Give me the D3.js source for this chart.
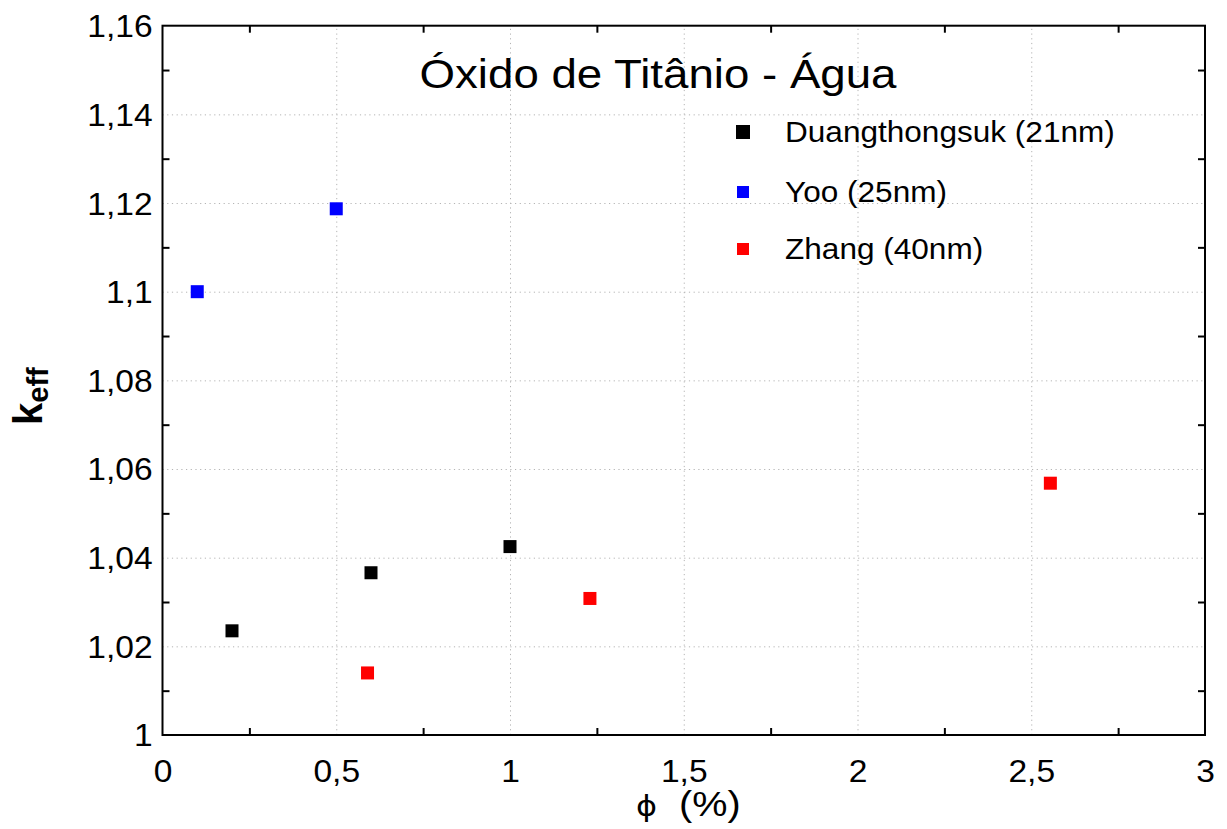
<!DOCTYPE html>
<html>
<head>
<meta charset="utf-8">
<script src="https://cdn.jsdelivr.net/npm/d3@7"></script>
<style>
  html, body { margin: 0; padding: 0; background: #fff; }
  svg { display: block; }
  text { font-family: "Liberation Sans", Arial, sans-serif; fill: #000; }
</style>
</head>
<body>
<svg id="chart" width="1227" height="829"></svg>
<script>
// Thermal conductivity ratio of TiO2–water nanofluids vs. volume fraction
const seriesNames = ["Duangthongsuk (21nm)", "Yoo (25nm)", "Zhang (40nm)"];
const seriesColors = ["#000000", "#0000ff", "#ff0000"];

const duangX = [0.2, 0.6, 1.0];
const duangY = [1.0235, 1.0366, 1.0425];

const yooX = [0.1, 0.5];
const yooY = [1.1, 1.1187];

const zhangX = [0.59, 1.23, 2.555];
const zhangY = [1.014, 1.0308, 1.0568];

const xTicks = [0, 0.5, 1, 1.5, 2, 2.5, 3];
const xMinorTicks = [0.25, 0.75, 1.25, 1.75, 2.25, 2.75];
const yTicks = [1, 1.02, 1.04, 1.06, 1.08, 1.1, 1.12, 1.14, 1.16];
const yMinorTicks = [1.01, 1.03, 1.05, 1.07, 1.09, 1.11, 1.13, 1.15];

const titleText = "Óxido de Titânio - Água";

const series = [
  { name: seriesNames[0], color: seriesColors[0], xs: duangX, ys: duangY },
  { name: seriesNames[1], color: seriesColors[1], xs: yooX, ys: yooY },
  { name: seriesNames[2], color: seriesColors[2], xs: zhangX, ys: zhangY }
];

const svg = d3.select("#chart");
const plot = { left: 162.5, top: 25.7, right: 1205, bottom: 735 };
const W = plot.right - plot.left, H = plot.bottom - plot.top;
const stretch = 1.1; // text is drawn slightly wide

const x = d3.scaleLinear().domain([0, 3]).range([plot.left, plot.right]);
const y = d3.scaleLinear().domain([1, 1.16]).range([plot.bottom, plot.top]);

const fmt = v => d3.format("~g")(+v.toFixed(2)).replace(".", ",");

// dotted grid at major values
const grid = svg.append("g").attr("class", "grid");
grid.append("g")
  .attr("transform", `translate(0,${plot.bottom})`)
  .call(d3.axisBottom(x).tickValues(xTicks.slice(1, -1)).tickSize(-H).tickFormat(""))
  .call(g => g.select(".domain").remove());
grid.append("g")
  .attr("transform", `translate(${plot.left},0)`)
  .call(d3.axisLeft(y).tickValues(yTicks.slice(1, -1)).tickSize(-W).tickFormat(""))
  .call(g => g.select(".domain").remove());
grid.selectAll("line")
  .attr("stroke", "#b4b4b4")
  .attr("stroke-width", 1)
  .attr("stroke-dasharray", "1.2,3.5");

// inward minor ticks on all four sides
const tickLen = 7;
const minor = svg.append("g").attr("class", "minor");
minor.append("g").attr("transform", `translate(0,${plot.bottom})`)
  .call(d3.axisBottom(x).tickValues(xMinorTicks).tickSize(-tickLen).tickFormat(""));
minor.append("g").attr("transform", `translate(0,${plot.top})`)
  .call(d3.axisTop(x).tickValues(xMinorTicks).tickSize(-tickLen).tickFormat(""));
minor.append("g").attr("transform", `translate(${plot.left},0)`)
  .call(d3.axisLeft(y).tickValues(yMinorTicks).tickSize(-tickLen).tickFormat(""));
minor.append("g").attr("transform", `translate(${plot.right},0)`)
  .call(d3.axisRight(y).tickValues(yMinorTicks).tickSize(-tickLen).tickFormat(""));
minor.selectAll(".domain").remove();
minor.selectAll("line").attr("stroke", "#000").attr("stroke-width", 2);

// frame
svg.append("rect")
  .attr("x", plot.left).attr("y", plot.top)
  .attr("width", W).attr("height", H)
  .attr("fill", "none").attr("stroke", "#000").attr("stroke-width", 2);

// tick labels
const xAxis = svg.append("g").attr("transform", `translate(0,${plot.bottom})`)
  .call(d3.axisBottom(x).tickValues(xTicks).tickSize(0).tickPadding(0).tickFormat(fmt));
xAxis.select(".domain").remove();
xAxis.selectAll("text")
  .attr("y", 47).attr("dy", null)
  .attr("font-size", 30.5)
  .attr("font-family", "Liberation Sans, Arial, sans-serif")
  .attr("transform", `scale(${stretch},1)`);

const yAxis = svg.append("g").attr("transform", `translate(${plot.left},0)`)
  .call(d3.axisLeft(y).tickValues(yTicks).tickSize(0).tickPadding(0).tickFormat(fmt));
yAxis.select(".domain").remove();
yAxis.selectAll("text")
  .attr("x", -9).attr("dy", "0.36em")
  .attr("font-size", 30.5)
  .attr("font-family", "Liberation Sans, Arial, sans-serif")
  .attr("transform", `scale(${stretch},1)`);

// points
const sq = 13;
series.forEach(s => {
  svg.append("g").selectAll("rect")
    .data(s.xs.map((v, i) => [v, s.ys[i]]))
    .join("rect")
    .attr("x", d => x(d[0]) - sq / 2)
    .attr("y", d => y(d[1]) - sq / 2)
    .attr("width", sq).attr("height", sq)
    .attr("fill", s.color);
});

// title
svg.append("text")
  .attr("transform", `translate(658,88) scale(${stretch},1)`)
  .attr("text-anchor", "middle")
  .attr("font-size", 41.5)
  .text(titleText);

// legend
const legendRows = [132, 192, 249];
const legendSizes = [14, 12, 12];
const legend = svg.append("g");
series.forEach((s, i) => {
  legend.append("rect")
    .attr("x", 743 - legendSizes[i] / 2)
    .attr("y", legendRows[i] - legendSizes[i] / 2)
    .attr("width", legendSizes[i]).attr("height", legendSizes[i])
    .attr("fill", s.color);
  legend.append("text")
    .attr("transform", `translate(785,${legendRows[i] + 10}) scale(${stretch},1)`)
    .attr("font-size", 28.7)
    .text(s.name);
});

// axis titles
const yTitle = svg.append("text")
  .attr("transform", "translate(42,425) rotate(-90)")
  .attr("font-weight", "bold");
yTitle.append("tspan").attr("font-size", 40).text("k");
yTitle.append("tspan").attr("font-size", 29).attr("dy", 6).text("eff");

const xTitle = svg.append("text")
  .attr("transform", `translate(636,816) scale(${stretch},1)`);
xTitle.append("tspan").attr("font-family", "DejaVu Sans").attr("font-size", 29).text("ϕ");
xTitle.append("tspan").attr("dx", 20).attr("font-size", 36).text("(%)");
</script>
</body>
</html>
